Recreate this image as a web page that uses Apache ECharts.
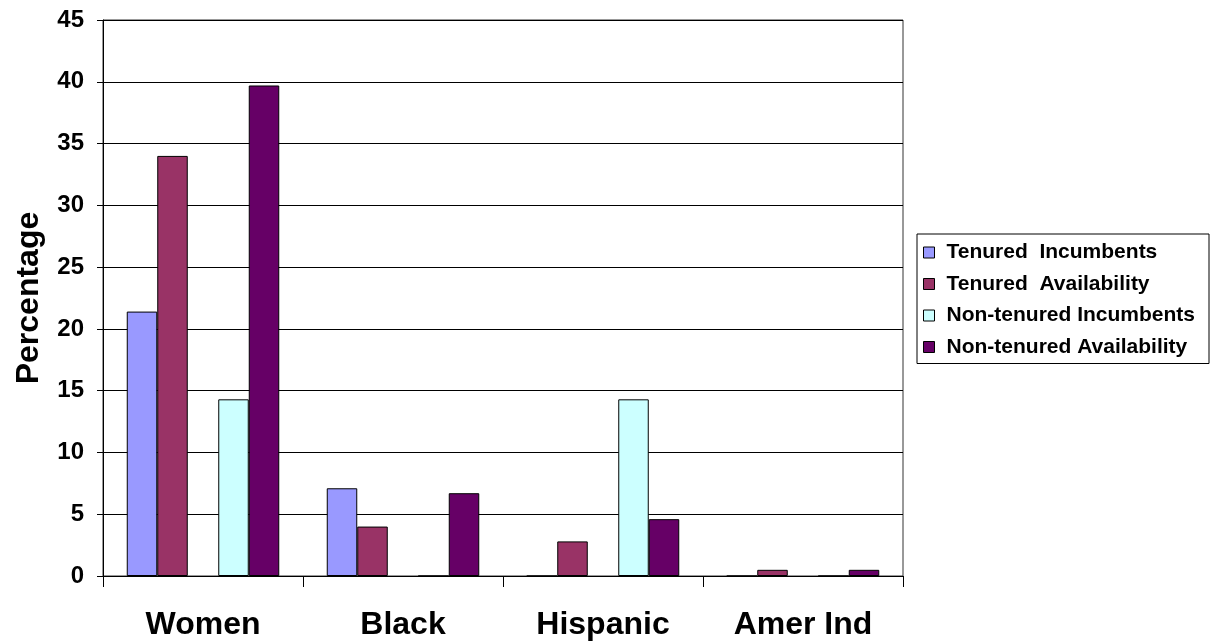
<!DOCTYPE html>
<html>
<head>
<meta charset="utf-8">
<script src="https://cdn.jsdelivr.net/npm/echarts@6/dist/echarts.min.js"></script>
<style>
  html, body { margin: 0; padding: 0; background: #fff; }
  #chart { width: 1215px; height: 644px; }
</style>
</head>
<body>
<div id="chart"></div>
<script>
// Groups along the x axis
var categories = ['Women', 'Black', 'Hispanic', 'Amer Ind'];

// Percentages per group
var tenuredIncumbents      = [21.4, 7.1, 0, 0];
var tenuredAvailability    = [34.0, 4.0, 2.8, 0.5];
var nonTenuredIncumbents   = [14.3, 0, 14.3, 0];
var nonTenuredAvailability = [39.7, 6.7, 4.6, 0.5];
// empty slot between the tenured and non-tenured pairs
var spacer = [0, 0, 0, 0];

var seriesNames = ['Tenured  Incumbents', 'Tenured  Availability', 'Non-tenured Incumbents', 'Non-tenured Availability'];
var seriesColors = ['#9999FF', '#993366', '#CCFFFF', '#660066'];

var yTicks = { min: 0, max: 45, interval: 5 };

var font = 'Liberation Sans, Arial, sans-serif';

function bar(name, data, color) {
  return {
    name: name,
    type: 'bar',
    data: data,
    barGap: '0%',
    barCategoryGap: '23.75%',
    itemStyle: { color: color, borderColor: '#000', borderWidth: 1 },
    emphasis: { disabled: true },
    silent: true
  };
}

var chart = echarts.init(document.getElementById('chart'), null, { renderer: 'canvas' });
chart.setOption({
  animation: false,
  backgroundColor: '#fff',
  grid: {
    left: 103, top: 20, width: 800, height: 556,
    show: true, borderColor: '#333', borderWidth: 1, backgroundColor: 'transparent'
  },
  legend: {
    orient: 'vertical',
    left: 917, top: 234,
    data: seriesNames,
    icon: 'rect',
    itemWidth: 11, itemHeight: 11,
    itemGap: 10.5,
    padding: [8, 14, 6, 6],
    borderColor: '#000', borderWidth: 1,
    backgroundColor: '#fff',
    selectedMode: false,
    itemStyle: { borderColor: '#000', borderWidth: 1 },
    formatter: function (name) { return '{g| }{t|' + name + '}'; },
    textStyle: {
      fontFamily: font, fontWeight: 'bold', fontSize: 21, color: '#000', lineHeight: 21,
      rich: {
        g: { width: 7, fontSize: 21, lineHeight: 21 },
        t: { fontFamily: font, fontWeight: 'bold', fontSize: 21, color: '#000', lineHeight: 21 }
      }
    }
  },
  xAxis: {
    type: 'category',
    data: categories,
    axisLine: { lineStyle: { color: '#000', width: 1 } },
    axisTick: { show: true, length: 11, interval: 0, lineStyle: { color: '#000' } },
    axisLabel: { margin: 33, fontFamily: font, fontWeight: 'bold', fontSize: 32, lineHeight: 32, color: '#000' },
    splitLine: { show: false }
  },
  yAxis: {
    type: 'value',
    min: yTicks.min, max: yTicks.max, interval: yTicks.interval,
    name: 'Percentage',
    nameLocation: 'middle',
    nameGap: 58,
    nameRotate: 90,
    nameTextStyle: { fontFamily: font, fontWeight: 'bold', fontSize: 32, color: '#000' },
    axisLine: { show: true, lineStyle: { color: '#000', width: 1 } },
    axisTick: { show: true, length: 6, lineStyle: { color: '#000' } },
    axisLabel: { margin: 19, fontFamily: font, fontWeight: 'bold', fontSize: 24, color: '#000' },
    splitLine: { show: true, lineStyle: { color: '#000', width: 1 } }
  },
  series: [
    bar(seriesNames[0], tenuredIncumbents, seriesColors[0]),
    bar(seriesNames[1], tenuredAvailability, seriesColors[1]),
    {
      name: 'spacer', type: 'bar', data: spacer, barGap: '0%', barCategoryGap: '23.75%',
      itemStyle: { color: 'transparent', borderWidth: 0 }, silent: true
    },
    bar(seriesNames[2], nonTenuredIncumbents, seriesColors[2]),
    bar(seriesNames[3], nonTenuredAvailability, seriesColors[3])
  ]
});
</script>
</body>
</html>
